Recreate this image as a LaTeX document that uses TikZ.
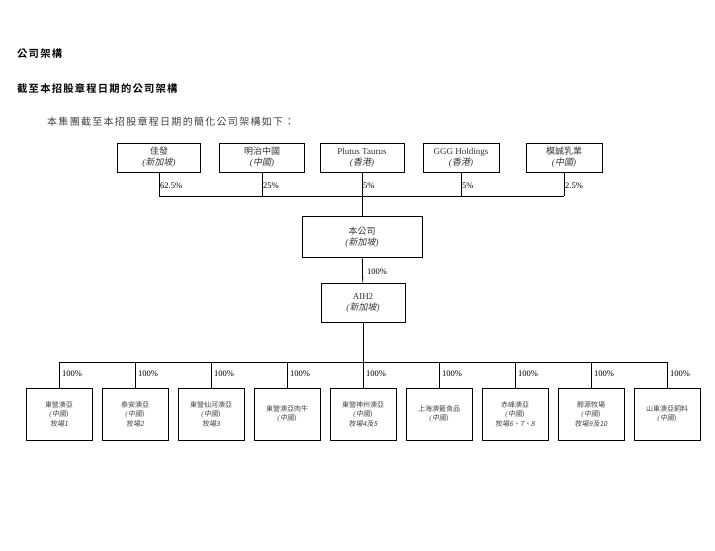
\documentclass[tikz,border=0pt]{standalone}
\usepackage{fontspec}
\setmainfont{Liberation Serif}
\newfontfamily\cjk{Noto Sans CJK TC}
\newfontfamily\cjkit{Noto Sans CJK TC}[FakeSlant=0.2]
\newfontfamily\cjkhead{Noto Sans CJK TC Bold}[LetterSpace=12]
\newfontfamily\cjkwide{Noto Sans CJK TC}[LetterSpace=13]
\newcommand{\regionlbl}[1]{\textit{(}{\cjkit #1}\textit{)}}
\begin{document}
\begin{tikzpicture}[x=1pt,y=-1pt]
        \tikzstyle{ownerbox}=[draw, line width=0.8pt, minimum height=29pt, inner sep=1pt, align=center, text=black!80, font=\fontsize{9}{11}\selectfont]
        \tikzstyle{groupbox}=[ownerbox, minimum height=41pt]
        \tikzstyle{farmbox}=[draw, line width=0.8pt, minimum width=66pt, minimum height=52pt, inner sep=1pt, align=center, text=black!75, font=\fontsize{7}{9.5}\selectfont]
        \tikzstyle{pct}=[anchor=west, inner sep=1pt, font=\fontsize{8.5}{9}\selectfont]
        \useasboundingbox (0,0) rectangle (715,550);
        % headings
        \node[anchor=west, inner sep=0pt, font=\fontsize{10.3}{12}\selectfont\cjkhead] (h1) at (17,54) {公司架構};
        \node[anchor=west, inner sep=0pt, font=\fontsize{10.3}{12}\selectfont\cjkhead] (h2) at (17,89) {截至本招股章程日期的公司架構};
        \node[anchor=west, inner sep=0pt, text=black!75, font=\fontsize{10}{12}\selectfont\cjkwide] (h3) at (47,122) {本集團截至本招股章程日期的簡化公司架構如下：};
        % shareholders
        \foreach \i/\x/\w/\name/\reg/\share in {1/159/83/{\cjk 佳發}/新加坡/{62.5\%},
                2/262/85/{\cjk 明治中國}/中國/{25\%},
                3/362/84/{Plutus Taurus}/香港/{5\%},
                4/461/76/{GGG Holdings}/香港/{5\%},
                5/564/76/{\cjk 模誠乳業}/中國/{2.5\%}} {
            \node[ownerbox, minimum width=\w pt] (t\i) at (\x,157.5) {\name\\\regionlbl{\reg}};
            \coordinate (j\i) at (\x,196);
            \draw[line width=0.8pt] (t\i) -- (j\i);
            \node[pct] (p\i) at (\x,186) {\share};
        }
        \draw[line width=0.8pt] (j1) -- (j5);
        % company and AIH2
        \node[groupbox, minimum width=120pt] (co) at (362,237) {{\cjk 本公司}\\\regionlbl{新加坡}};
        \node[groupbox, minimum width=84pt, minimum height=39pt] (aih) at (363,302.5) {AIH2\\\regionlbl{新加坡}};
        \draw[line width=0.8pt] (j3) -- (co);
        \draw[line width=0.8pt] (co) -- (aih);
        \node[pct] (p0) at (366,272) {100\%};
        % subsidiaries
        \foreach \i/\name/\reg/\farm in {1/東營澳亞/中國/{\\{\cjkit 牧場1}},
                2/泰安澳亞/中國/{\\{\cjkit 牧場2}},
                3/東營仙河澳亞/中國/{\\{\cjkit 牧場3}},
                4/東營澳亞肉牛/中國/{},
                5/東營神州澳亞/中國/{\\{\cjkit 牧場4及5}},
                6/上海澳藍食品/中國/{},
                7/赤峰澳亞/中國/{\\{\cjkit 牧場6、7、8}},
                8/醇源牧場/中國/{\\{\cjkit 牧場9及10}},
                9/山東澳亞飼料/中國/{}} {
            \pgfmathsetmacro{\x}{59+76*(\i-1)}
            \node[farmbox] (f\i) at (\x,414) {{\cjk \name}\\\regionlbl{\reg}\farm};
            \coordinate (k\i) at (\x,362);
            \draw[line width=0.8pt] (k\i) -- (f\i);
            \node[pct] (q\i) at (\x+2,374) {100\%};
        }
        \draw[line width=0.8pt] (k1) -- (k9);
        \draw[line width=0.8pt] (aih) -- (k5);
\end{tikzpicture}
\end{document}
